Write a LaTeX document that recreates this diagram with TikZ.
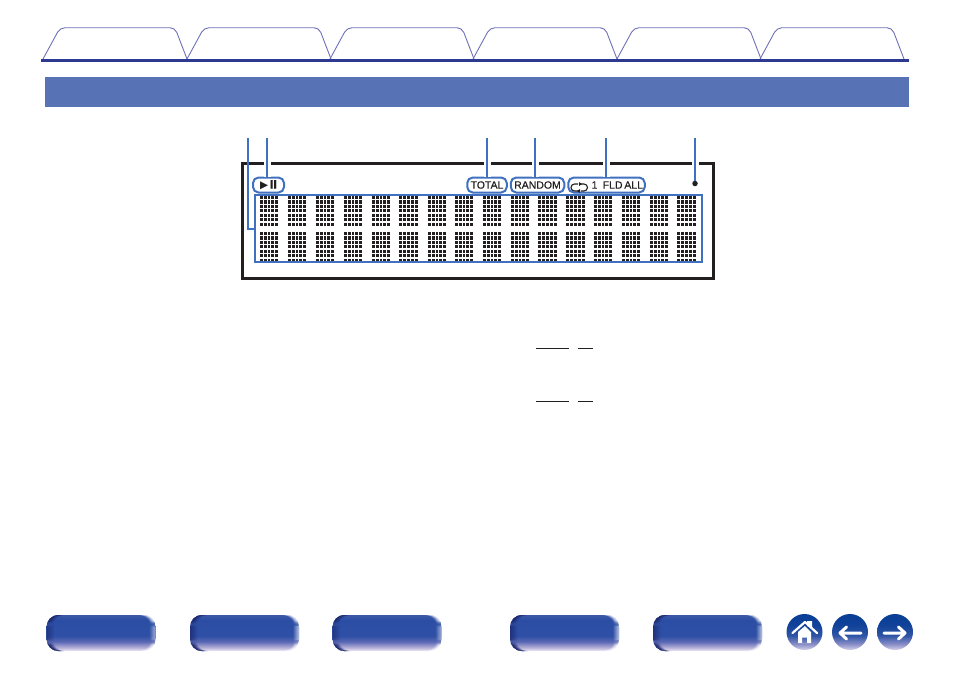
\documentclass[tikz,border=0pt]{standalone}
\usepackage{xcolor}
\usepackage{fontspec}
\setmainfont{Liberation Sans}
\newfontfamily\symbolfont{DejaVu Sans}
\newfontfamily\panelfont[FakeBold=0.35]{Liberation Sans}
\usetikzlibrary{positioning}
\definecolor{tabline}{HTML}{6E70B8}
\definecolor{navline}{HTML}{2B3990}
\definecolor{band}{HTML}{5772B5}
\definecolor{leadblue}{HTML}{4070C0}
\definecolor{ink}{HTML}{231F20}
\definecolor{btnedge}{HTML}{1F2C72}
\definecolor{btnA}{HTML}{EFECF6}
\definecolor{btnB}{HTML}{B3AED6}
\definecolor{btnC}{HTML}{5A68B4}
\definecolor{btnD}{HTML}{2E4FA5}
\definecolor{btnE}{HTML}{2B4EA4}
\definecolor{btnF}{HTML}{3D58A8}
\definecolor{rndA}{HTML}{D5D3EA}
\definecolor{rndB}{HTML}{8C90C8}
\definecolor{rndC}{HTML}{2F54A6}
\definecolor{rndD}{HTML}{0F4298}
\definecolor{rndE}{HTML}{0A3F96}
\pgfdeclareverticalshading{btnshade}{100bp}{color(0bp)=(btnA); color(25bp)=(btnA); color(30bp)=(btnB); color(38bp)=(btnC); color(46bp)=(btnD); color(68bp)=(btnE); color(75bp)=(btnF); color(100bp)=(btnF)}
\pgfdeclareverticalshading{roundshade}{100bp}{color(0bp)=(rndA); color(25bp)=(rndA); color(33bp)=(rndB); color(45bp)=(rndC); color(60bp)=(rndD); color(75bp)=(rndE); color(100bp)=(rndE)}
\tikzstyle{tabshape} = [draw=tabline, line width=0.9pt, rounded corners=5pt]
\tikzstyle{pill} = [rectangle, draw=leadblue, line width=2pt, fill=white, rounded corners=5.5pt, minimum height=15pt, inner sep=0pt, text=ink, font=\panelfont\fontsize{10.5}{12}\selectfont]
\tikzstyle{leader} = [draw=leadblue, line width=2.1pt]
\tikzstyle{halo} = [preaction={draw=white, line width=7pt}]
\tikzstyle{underrule} = [draw=ink, line width=1.3pt]
\tikzstyle{navbutton} = [rectangle, rounded corners=12pt, minimum width=109pt, minimum height=36pt, inner sep=0pt, shading=btnshade, path picture={
    \foreach \k in {0,...,7} {
        \fill[btnedge, opacity=0.8-\k*0.11] ([xshift=\k pt]path picture bounding box.north west) rectangle ++(1,36);
    }
    \foreach \k in {0,...,5} {
        \fill[white, opacity=0.55-\k*0.1] ([xshift=-\k pt]path picture bounding box.north east) rectangle ++(-1,36);
    }
}]
\tikzstyle{navround} = [circle, minimum size=36pt, inner sep=0pt, shading=roundshade]
\tikzstyle{glyph} = [draw=white, line width=3pt, line cap=round, line join=round]
\begin{document}
\begin{tikzpicture}[x=1pt,y=-1pt]
    \useasboundingbox (0,0) rectangle (954,673);

    % Tabs and header
    \foreach \tabx in {43,187,330,473,617,760} {
        \draw [tabshape] (\tabx,59) -- (\tabx+17,27.7) -- (\tabx+132,27.7) -- (\tabx+144,59);
    }
    \fill [navline] (41,59) rectangle (909,62);
    \fill [band] (45,77) rectangle (909,107);

    % Display
    \node (display) [rectangle, draw=ink, line width=2.6pt, minimum width=471pt, minimum height=115pt, inner sep=0pt] at (478,221) {};

    % Dot matrix
    \foreach \cx/\cw in {260/3.8,288/3.8,316/3.8,344/3.8,372/3.8,399/4,428/3.8,455/3.8,483/3.8,511/3.8,538/4,566/4,594/3.8,622/3.8,650/3.8,677/4} {
        \foreach \rowy in {196,232} {
            \foreach \i in {0,...,4} {
                \foreach \j in {0,...,6} {
                    \fill [ink] (\cx+\i*\cw,\rowy+\j*4.43) rectangle ++(2.8,3.1);
                }
            }
        }
    }
    \node (matrix) [rectangle, draw=leadblue, line width=2.1pt, minimum width=447pt, minimum height=67pt, inner sep=0pt] at (478.5,228.5) {};

    % Indicators
    \node (play) [pill, minimum width=31pt] at (268.5,185) {{\symbolfont\fontsize{10.5}{10}\selectfont ▶}\,{\bfseries\fontsize{12.5}{12}\selectfont II}};
    \node (total) [pill, minimum width=39.5pt] at (487,185) {TOTAL};
    \node (random) [pill, right=2pt of total, minimum width=53.5pt] {RANDOM};
    \node (repeat) [pill, right=2pt of random, minimum width=76.5pt, text width=73pt, align=right] {1\, FLD\,ALL};
    \node (lamp) [circle, fill=ink, minimum size=5.5pt, inner sep=0pt] at (695,183.5) {};

    % Repeat icon
    \draw [ink, line width=1.1pt] (578,184) -- (574.5,184) arc[start angle=270, end angle=90, radius=3.5] -- (579,191);
    \draw [ink, line width=1.1pt] (581,184) -- (584,184) arc[start angle=270, end angle=450, radius=3.5] -- (581,191);
    \fill [ink] (579,182) -- (582,184) -- (579,186) -- cycle;
    \fill [ink] (580,189) -- (577,191) -- (580,193) -- cycle;

    % Leaders
    \coordinate (leadA) at (248,138);
    \coordinate (bendA) at (248,229);
    \coordinate (leadB) at (267,138);
    \coordinate (leadC) at (487,138);
    \coordinate (leadD) at (535,138);
    \coordinate (leadE) at (606,138);
    \coordinate (leadF) at (695,138);
    \draw [leader] (leadA) -- (bendA) -- (bendA -| matrix.west);
    \draw [leader, halo] (leadB) -- (leadB |- play.north);
    \draw [leader, halo] (leadC) -- (leadC |- total.north);
    \draw [leader, halo] (leadD) -- (leadD |- random.north);
    \draw [leader, halo] (leadE) -- (leadE |- repeat.north);
    \draw [leader, halo] (leadF) -- (lamp);

    % Rules
    \draw [underrule] (536,348.3) -- (554.5,348.3) (555,348.3) -- (569,348.3) (578,348.3) -- (593,348.3);
    \draw [underrule] (536,401.3) -- (554.5,401.3) (555,401.3) -- (569,401.3) (578,401.3) -- (593,401.3);

    % Buttons
    \node (btnOne) [navbutton] at (101,633) {};
    \node (btnTwo) [navbutton] at (244.5,633) {};
    \node (btnThree) [navbutton] at (387,633) {};
    \node (btnFour) [navbutton] at (564.5,633) {};
    \node (btnFive) [navbutton] at (707.5,633) {};
    \node (home) [navround] at (804.5,632) {};
    \node (back) [navround] at (850,632) {};
    \node (forward) [navround] at (895,632) {};

    % Button glyphs
    \fill [white] (807,621) -- (812,621) -- (812,628) -- (807,626) -- cycle;
    \draw [glyph, line width=2.2pt] (792.5,633) -- (805,622) -- (817,633);
    \fill [white, even odd rule] (798,632) -- (805,626) -- (811,632) -- (811,643) -- (798,643) -- cycle (802,643) rectangle (807,637.5);
    \draw [glyph] (861,633) -- (840,633) (846.5,627) -- (840,633) -- (846.5,639);
    \draw [glyph] (884,633) -- (905,633) (898.5,627) -- (905,633) -- (898.5,639);
\end{tikzpicture}
\end{document}
